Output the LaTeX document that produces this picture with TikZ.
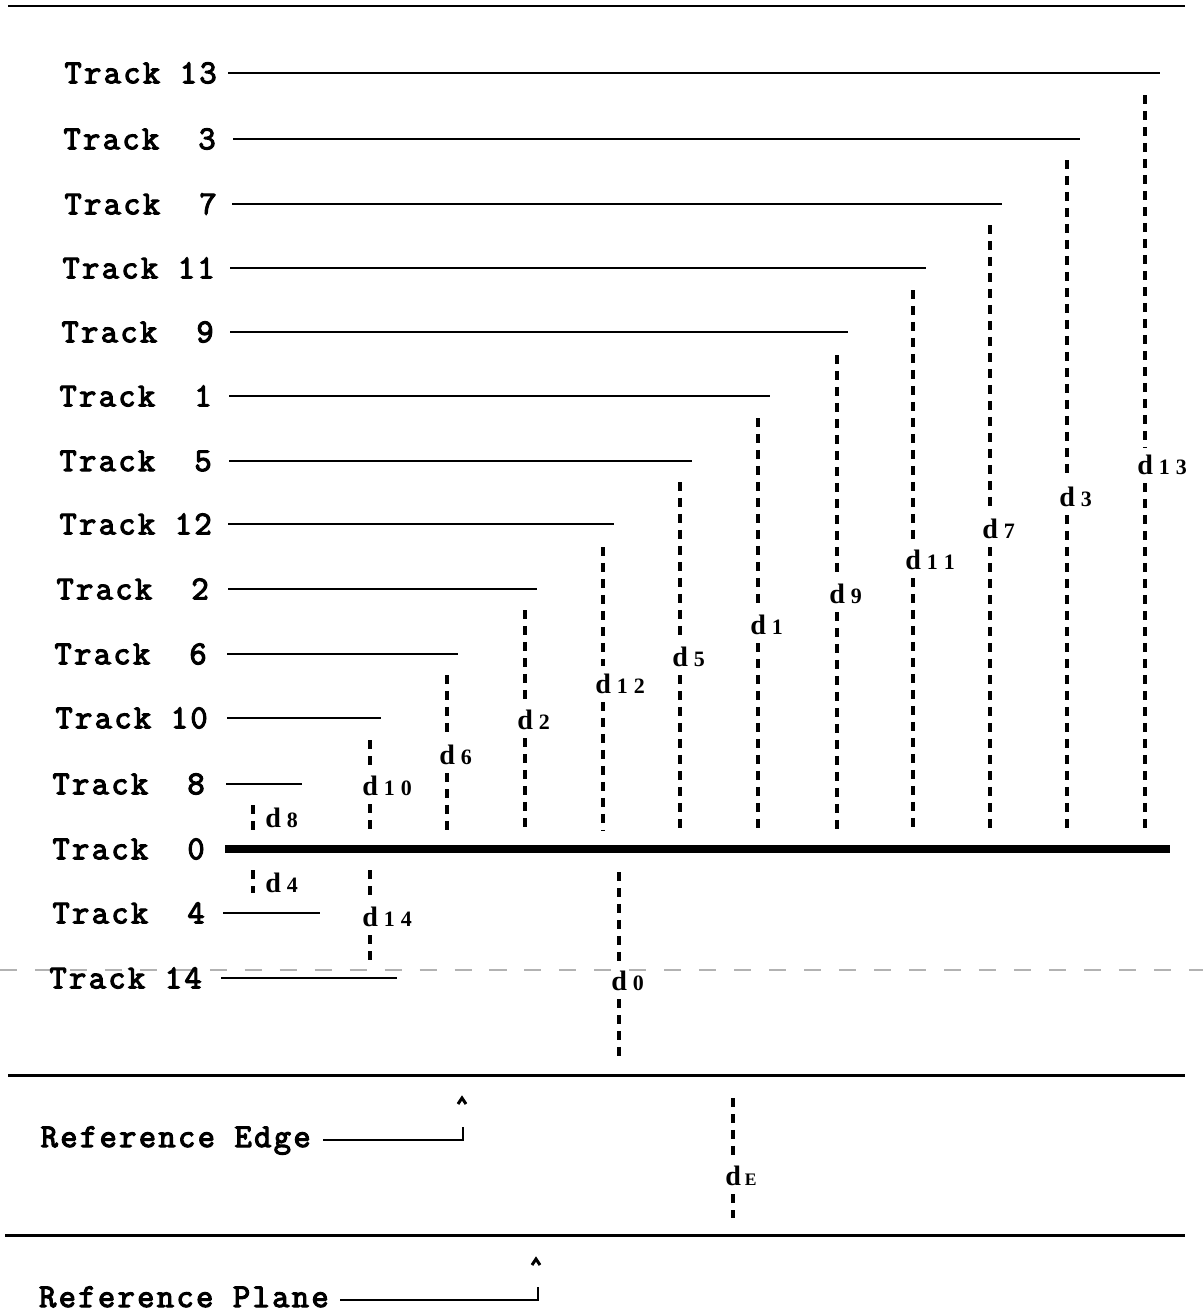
\documentclass[tikz,border=0pt]{standalone}
\usepackage{fontspec}
\newfontfamily\trackfont{Latin Modern Mono}[FakeBold=3.5, LetterSpace=7.3]
\newfontfamily\dfont{Liberation Serif}[BoldFont={* Bold}]
\begin{document}
\begin{tikzpicture}[x=0.02cm,y=-0.02cm,
  tracklab/.style={font=\trackfont\fontsize{19}{21}\selectfont, inner sep=0pt},
  trackline/.style={line width=1.4pt},
  mainline/.style={line width=4pt},
  rule/.style={line width=1.7pt},
  dimline/.style={line width=2pt, dash pattern=on 5.1pt off 4pt},
  dlab/.style={font=\dfont\bfseries\fontsize{16}{18}\selectfont, inner sep=0pt, anchor=west},
  refline/.style={line width=1.4pt},
  caret/.style={line width=1.7pt, line join=miter}]
\useasboundingbox (0,0) rectangle (1203,1316);
\newcommand\sub[1]{{\fontsize{12.5}{13}\selectfont #1}}
\newcommand\gp{\hspace{0.12cm}}
% rules
\coordinate (r1a) at (8,6); \coordinate (r1b) at (1185,6);
\coordinate (r2a) at (8,1075); \coordinate (r2b) at (1185,1075);
\coordinate (r3a) at (5,1235); \coordinate (r3b) at (1185,1235);
\draw[rule] (r1a) -- (r1b);
\draw[rule] (r2a) -- (r2b);
\draw[rule] (r3a) -- (r3b);
% gray dashed level line
\coordinate (ga) at (0,970); \coordinate (gb) at (1203,970);
\draw[gray!60, line width=0.9pt, dash pattern=on 9.7pt off 10.2pt] (ga) -- (gb);
% tracks
\foreach \n/\lab/\y/\tr/\xs/\xe in {
  13/{Track 13}/73/217/228/1160,
  3/{Track~~3}/139/216/233/1080,
  7/{Track~~7}/204/217/232/1002,
  11/{Track 11}/268/215/230/926,
  9/{Track~~9}/332/214/230/848,
  1/{Track~~1}/396/212/229/770,
  5/{Track~~5}/461/212/229/692,
  12/{Track 12}/524/212/228/614,
  2/{Track~~2}/589/209/228/537,
  6/{Track~~6}/654/207/227/458,
  10/{Track 10}/718/208/227/381,
  8/{Track~~8}/784/205/226/302,
  4/{Track~~4}/913/205/223/320,
  14/{Track 14}/978/202/221/397}{
  \node[tracklab, anchor=east] (t\n) at (\tr,\y) {\lab};
  \coordinate (s\n) at (\xs,\y);
  \coordinate (e\n) at (\xe,\y);
  \draw[trackline] (s\n) -- (e\n);
}
\node[tracklab, anchor=east] (t0) at (205,849) {Track~~0};
\coordinate (s0) at (225,849); \coordinate (e0) at (1170,849);
\draw[mainline] (s0) -- (e0);
% dimension lines with gap for label
\foreach \nm/\x/\top/\ly/\bot/\lab in {
  d13/1145/95/465/830/{1\gp3},
  d3/1067/160/497/830/{3},
  d7/990/225/529/830/{7},
  d11/913/290/560/830/{1\gp1},
  d9/837/355/594/830/{9},
  d1/758/418/625/830/{1},
  d5/680/482/657/830/{5},
  d12/603/547/684/830/{1\gp2},
  d2/525/610/720/830/{2},
  d6/447/675/755/830/{6},
  d10/370/740/786/830/{1\gp0},
  d14/370/870/917/960/{1\gp4},
  d0/619/872/981/1058/{0}}{
  \coordinate (\nm t) at (\x,\top);
  \coordinate (\nm u) at (\x,\ly-18);
  \coordinate (\nm l) at (\x,\ly+18);
  \coordinate (\nm b) at (\x,\bot);
  \draw[dimline] (\nm t) -- (\nm u);
  \draw[dimline] (\nm l) -- (\nm b);
  \node[dlab] (\nm) at (\x-8,\ly) {d\gp\sub{\lab}};
}
% dE
\coordinate (dEt) at (733,1098); \coordinate (dEu) at (733,1158);
\coordinate (dEl) at (733,1194); \coordinate (dEb) at (733,1218);
\draw[dimline] (dEt) -- (dEu);
\draw[dimline] (dEl) -- (dEb);
\node[dlab] (dE) at (725,1176) {d\hspace{0.08cm}{\fontsize{10}{11}\selectfont E}};
% short ones, label beside
\coordinate (d8t) at (253,805); \coordinate (d8b) at (253,830);
\draw[dimline] (d8t) -- (d8b);
\node[dlab] (d8) at (265,818) {d\gp\sub{8}};
\coordinate (d4t) at (253,870); \coordinate (d4b) at (253,893);
\draw[dimline] (d4t) -- (d4b);
\node[dlab] (d4) at (265,883) {d\gp\sub{4}};
% reference edge
\node[tracklab, anchor=base east] (redge) at (311,1147) {Reference Edge};
\coordinate (rea) at (323,1140); \coordinate (reb) at (463,1140); \coordinate (rec) at (463,1127);
\draw[refline] (rea) -- (reb) -- (rec);
\coordinate (ca1) at (458,1104); \coordinate (ca2) at (462,1098); \coordinate (ca3) at (466,1104);
\draw[caret] (ca1) -- (ca2) -- (ca3);
% reference plane
\node[tracklab, anchor=base east] (rplane) at (329,1307) {Reference Plane};
\coordinate (rpa) at (340,1300); \coordinate (rpb) at (538,1300); \coordinate (rpc) at (538,1287);
\draw[refline] (rpa) -- (rpb) -- (rpc);
\coordinate (cb1) at (532,1265); \coordinate (cb2) at (536,1259); \coordinate (cb3) at (540,1265);
\draw[caret] (cb1) -- (cb2) -- (cb3);
\end{tikzpicture}
\end{document}
